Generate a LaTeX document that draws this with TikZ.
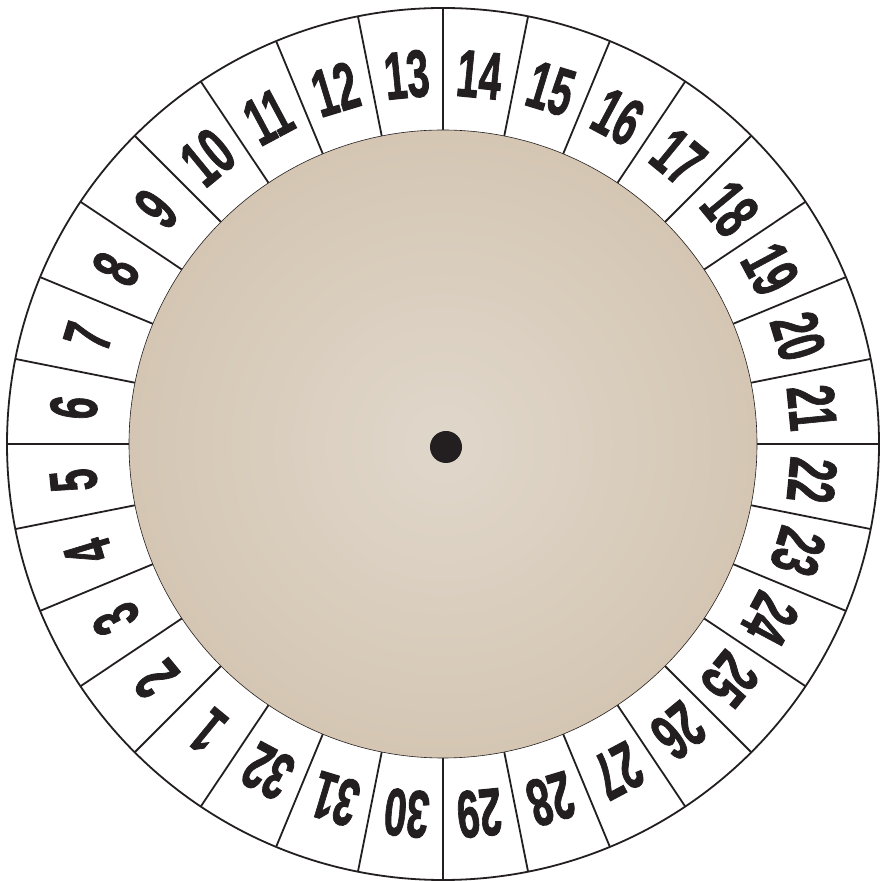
\documentclass[tikz,border=0pt]{standalone}
\usepackage{fontspec}
\setmainfont{Liberation Sans}
\newfontfamily\numfont[FakeBold=1.6]{Liberation Sans Bold}
\usetikzlibrary{calc}
\definecolor{disklight}{HTML}{E0D7CB}
\definecolor{diskdark}{HTML}{D4C6B3}
\definecolor{ink}{HTML}{231F20}
\begin{document}
\begin{tikzpicture}[x=1pt,y=1pt,
  ringline/.style={draw=ink,line width=1.8pt},
  numlabel/.style={text=ink,inner sep=0pt,font=\numfont\fontsize{67}{67}\selectfont}]
\useasboundingbox (0,0) rectangle (881,881);
\coordinate (c) at (443,437);
\fill[white] (c) circle[radius=436];
\foreach \i in {0,...,31}{
  \draw[ringline] (c) ++(90+\i*11.25:314) -- ++(90+\i*11.25:122);
}
\draw[ringline] (c) circle[radius=436];
\shade[inner color=disklight, outer color=diskdark] (c) circle[radius=314];
\draw[draw=ink,line width=0.6pt] (c) circle[radius=314];
\foreach \n in {1,...,32}{
  \pgfmathsetmacro{\ang}{84.375-(\n-14)*11.25}
  \node[numlabel,rotate=\ang-90] (n\n) at ($(c)+(\ang:371)$) {\scalebox{0.6}[1]{\n}};
}
\fill[ink] (446,434) circle[radius=16] node (dot) {};
\end{tikzpicture}
\end{document}
